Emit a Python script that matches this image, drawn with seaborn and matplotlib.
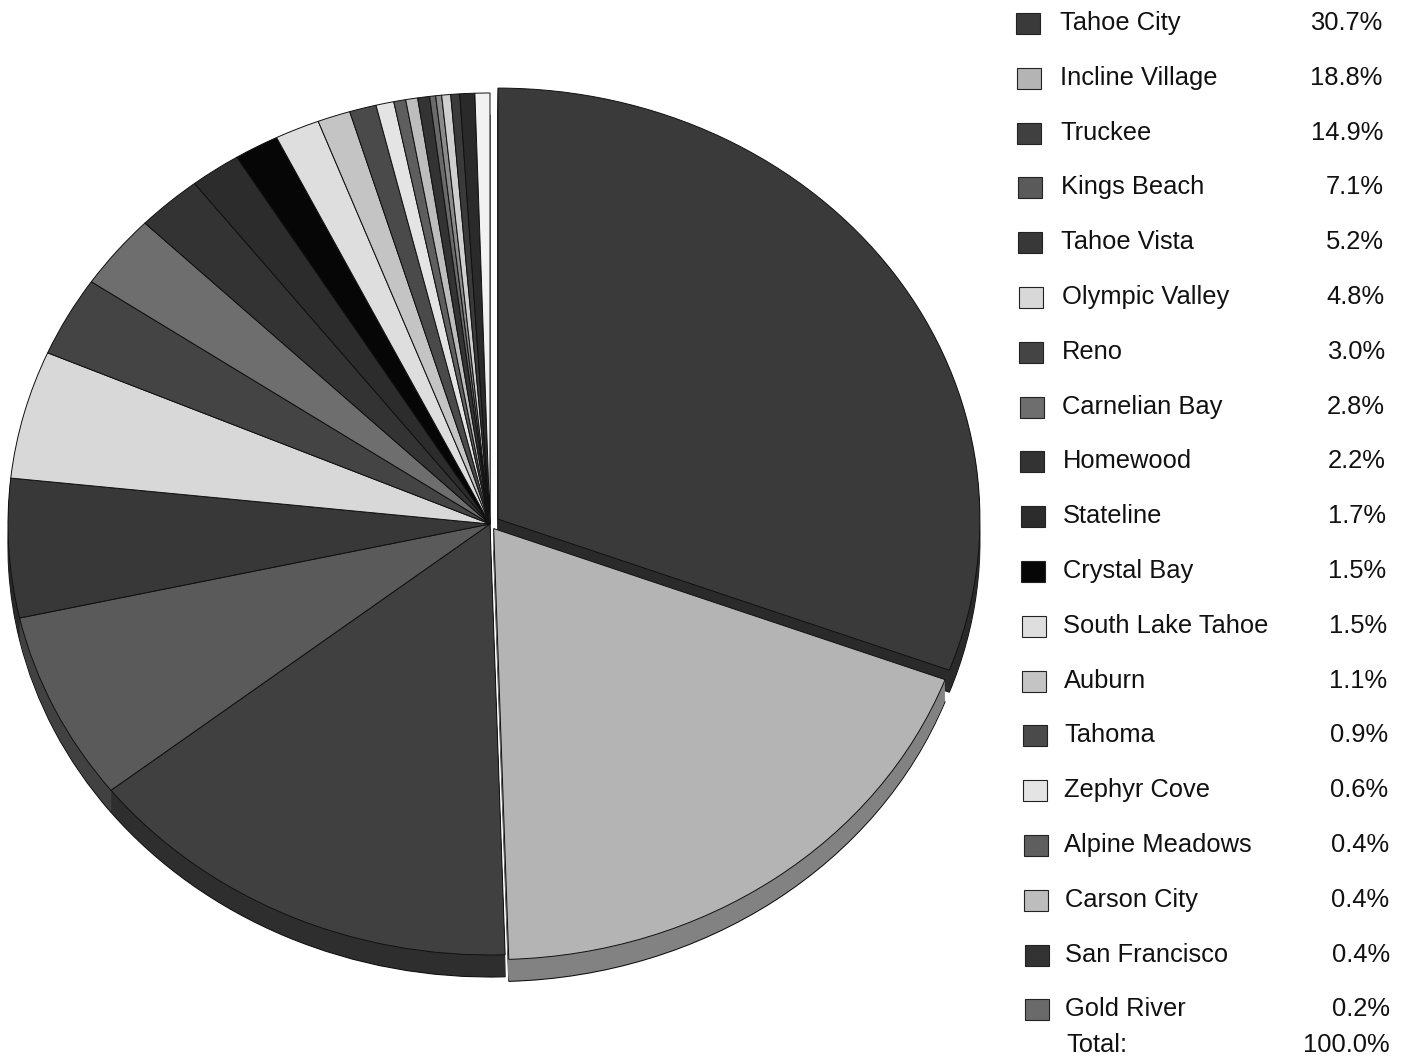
import matplotlib
matplotlib.use("Agg")
import matplotlib.pyplot as plt
import matplotlib.colors as mcolors
from matplotlib.patches import Rectangle
import seaborn as sns

# ---- data -------------------------------------------------------------
towns = ["Tahoe City", "Incline Village", "Truckee", "Kings Beach", "Tahoe Vista",
         "Olympic Valley", "Reno", "Carnelian Bay", "Homewood", "Stateline",
         "Crystal Bay", "South Lake Tahoe", "Auburn", "Tahoma", "Zephyr Cove",
         "Alpine Meadows", "Carson City", "San Francisco", "Gold River"]
shares = [30.7, 18.8, 14.9, 7.1, 5.2, 4.8, 3.0, 2.8, 2.2, 1.7,
          1.5, 1.5, 1.1, 0.9, 0.6, 0.4, 0.4, 0.4, 0.2]
town_grays = ["#3a3a3a", "#b4b4b4", "#404040", "#5a5a5a", "#383838",
              "#d8d8d8", "#444444", "#6e6e6e", "#333333", "#2c2c2c",
              "#060606", "#dedede", "#c4c4c4", "#4a4a4a", "#e4e4e4",
              "#5e5e5e", "#bdbdbd", "#333333", "#6a6a6a"]
# small unnamed slices that close the circle
unlisted_shares = [0.2, 0.3, 0.3, 0.5, 0.5]
unlisted_grays = ["#8a8a8a", "#cfcfcf", "#3a3a3a", "#2a2a2a", "#f2f2f2"]
total_label = "100.0%"

# ---- style ------------------------------------------------------------
sns.set_theme(style="white")
plt.rcParams["font.family"] = ["Liberation Sans", "DejaVu Sans"]

W, H = 1405, 1061
fig = plt.figure(figsize=(W / 100, H / 100), dpi=100)
fig.patch.set_facecolor("white")

# pie geometry in pixels: centre, radii and rim depth
cx, cy, rx, ry, depth = 490, 524, 482, 431, 22

values = shares + unlisted_shares
grays = town_grays + unlisted_grays
explode = [0.02, 0.013] + [0.0] * (len(values) - 2)
side_grays = [tuple(c * 0.72 for c in mcolors.to_rgb(g)) for g in grays]

pie_ax = fig.add_axes([0, 0, 1, 1])

# rim of the tilted pie: stacked copies, lowest one carries the outline
for k in range(depth, 0, -1):
    pie_ax.pie(values, colors=side_grays, startangle=90, counterclock=False,
               explode=explode, center=(0, -k / ry),
               wedgeprops=dict(edgecolor="#111111" if k == depth else "none",
                               linewidth=0.8 if k == depth else 0))

# top surface
pie_ax.pie(values, colors=grays, startangle=90, counterclock=False,
           explode=explode,
           wedgeprops=dict(edgecolor="#111111", linewidth=0.7))

pie_ax.set_xlim((0 - cx) / rx, (W - cx) / rx)
pie_ax.set_ylim(-(H - cy) / ry, cy / ry)
pie_ax.set_aspect("auto")
pie_ax.axis("off")

# ---- legend table -----------------------------------------------------
leg_ax = fig.add_axes([0, 0, 1, 1], facecolor="none")
leg_ax.set_xlim(0, W)
leg_ax.set_ylim(H, 0)
leg_ax.axis("off")

fs = 18.4
for i, (name, val, g) in enumerate(zip(towns, shares, town_grays)):
    base = 30 + 54.8 * i
    leg_ax.add_patch(Rectangle((1016 + 0.5 * i, base - 17), 24, 21,
                               facecolor=g, edgecolor="#222222", linewidth=0.8))
    leg_ax.text(1060 + 0.3 * i, base, name, fontsize=fs, color="#111111",
                ha="left", va="baseline")
    leg_ax.text(1382 + 0.45 * i, base, f"{val:.1f}%", fontsize=fs,
                color="#111111", ha="right", va="baseline")

leg_ax.text(1066, 1052, "Total:", fontsize=fs, color="#111111",
            ha="left", va="baseline")
leg_ax.text(1390, 1052, total_label, fontsize=fs, color="#111111",
            ha="right", va="baseline")

fig.savefig("out.png", dpi=100, facecolor="white")
